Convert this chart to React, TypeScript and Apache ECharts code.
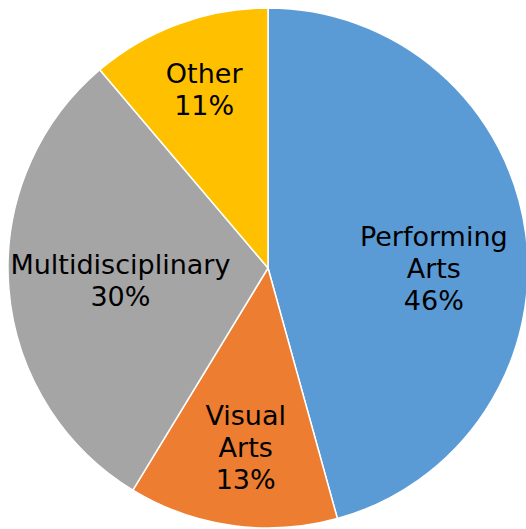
import React, { useEffect, useRef } from "react";
import * as echarts from "echarts";

const categories = ["Performing Arts", "Visual Arts", "Multidisciplinary", "Other"];
const values = [45.7, 13.0, 30.1, 11.2];
const colors = ["#5B9BD5", "#ED7D31", "#A5A5A5", "#FFC000"];
// label nudges (px) relative to ECharts' inside position
const labelShift = [
  [34, 18],
  [-4, 48],
  [-15, 2],
  [-18, -54],
];

export default function App() {
  const ref = useRef<HTMLDivElement>(null);
  useEffect(() => {
    if (!ref.current) return;
    const chart = echarts.init(ref.current, null, { renderer: "svg" });
    chart.setOption({
      animation: false,
      series: [
        {
          type: "pie",
          center: [268, 268],
          radius: [0, 260],
          startAngle: 90,
          clockwise: true,
          avoidLabelOverlap: false,
          itemStyle: { borderColor: "#ffffff", borderWidth: 1.5 },
          label: {
            show: true,
            position: "inside",
            color: "#000000",
            fontFamily: "DejaVu Sans",
            fontSize: 27,
            lineHeight: 32,
            align: "center",
            formatter: (p: any) =>
              `${String(p.name).replace(" ", "\n")}\n${Math.round(p.value)}%`,
          },
          labelLine: { show: false },
          labelLayout: (p: any) => ({
            dx: labelShift[p.dataIndex][0],
            dy: labelShift[p.dataIndex][1],
          }),
          data: categories.map((name, i) => ({
            name,
            value: values[i],
            itemStyle: { color: colors[i] },
          })),
        },
      ],
    });
    return () => chart.dispose();
  }, []);
  return (
    <div
      ref={ref}
      style={{ position: "fixed", left: 0, top: 0, width: 526, height: 529, background: "#fff" }}
    />
  );
}
